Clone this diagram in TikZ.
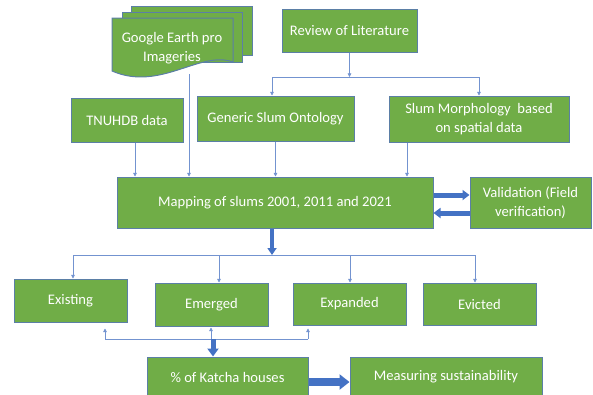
\documentclass[tikz,border=0pt]{standalone}
\usepackage{fontspec}
\setmainfont{Carlito}
\usetikzlibrary{arrows.meta}
\definecolor{gfill}{HTML}{70AD47}
\definecolor{gborder}{HTML}{5B7FA6}
\definecolor{ablue}{HTML}{4472C4}
\definecolor{tblue}{HTML}{7393D0}
\tikzset{
  box/.style={draw=gborder, line width=1pt, fill=gfill, text=white,
    font=\fontsize{14.6}{18.5}\selectfont, align=center, inner sep=0pt},
  sheet/.style={draw=gborder, line width=1pt, fill=gfill},
  thinline/.style={draw=tblue, line width=0.6pt},
  thinarrow/.style={thinline, -{Triangle[width=3.6pt,length=3.6pt]}},
  bigarrow/.style={draw=ablue, line width=5pt, -{Triangle[width=10pt,length=7pt]}},
  hugearrow/.style={draw=ablue, line width=8.5pt, -{Triangle[width=15pt,length=10pt]}}
}
\begin{document}
\begin{tikzpicture}[x=1pt,y=-1pt]
\useasboundingbox (0,0) rectangle (593,394);
% Google Earth multi-document
\draw[sheet] (131,6) rectangle (252,55);
\draw[sheet] (122,12) rectangle (242,62);
\draw[sheet] (112,18) -- (233,18) -- (233,62) .. controls (200,50) and (160,92) .. (112,71) -- cycle;
\node[text=white, font=\fontsize{14.6}{18.5}\selectfont, align=center] (goog) at (172,48) {Google Earth pro\\Imageries};
\coordinate (gbot) at (189,74);
% boxes
\node[box, minimum width=135, minimum height=43] (rev) at (349.5,30.5) {Review of Literature};
\node[box, minimum width=112, minimum height=44] (tnu) at (127,120) {TNUHDB data};
\node[box, minimum width=157, minimum height=45] (gen) at (275.5,118.5) {Generic Slum Ontology};
\node[box, minimum width=180, minimum height=46] (morph) at (479,119) {Slum Morphology\ \ based\\on spatial data};
\node[box, minimum width=316, minimum height=51] (map) at (275,202.5) {Mapping of slums 2001, 2011 and 2021};
\node[box, minimum width=121, minimum height=51] (val) at (530.5,202.5) {Validation (Field\\verification)};
\node[box, minimum width=113, minimum height=43] (exist) at (70.5,300.5) {Existing};
\node[box, minimum width=113, minimum height=43] (emer) at (211.5,304.5) {Emerged};
\node[box, minimum width=113, minimum height=42] (expa) at (349.5,304) {Expanded};
\node[box, minimum width=113, minimum height=42] (evic) at (479.5,304) {Evicted};
\node[box, minimum width=161, minimum height=40] (katcha) at (227.5,377) {\% of Katcha houses};
\node[box, minimum width=192, minimum height=40] (meas) at (446,377) {Measuring sustainability};
% top connectors
\coordinate (j1) at (349.5,77);
\coordinate (jL) at (272,77);
\coordinate (jR) at (479,77);
\draw[thinarrow] (rev.south) -- (j1);
\draw[thinline] (jL) -- (jR);
\draw[thinarrow] (jL) -- (jL |- gen.north);
\draw[thinarrow] (jR) -- (morph.north);
% into mapping
\draw[thinarrow] ([xshift=8pt]tnu.south) -- ([xshift=8pt]tnu.south |- map.north);
\draw[thinarrow] (gbot) -- (gbot |- map.north);
\draw[thinarrow] (gen.south) -- (gen.south |- map.north);
\draw[thinarrow] ([xshift=-72pt]morph.south) -- ([xshift=-72pt]morph.south |- map.north);
% validation arrows
\draw[bigarrow] ([yshift=7.5pt]map.east) -- ([yshift=7.5pt]map.east -| val.west);
\draw[bigarrow] ([yshift=-10.5pt]val.west) -- ([yshift=-10.5pt]val.west -| map.east);
% mapping down
\coordinate (j2) at (272,255);
\coordinate (jA) at (73,255);
\coordinate (jB) at (219,255);
\coordinate (jC) at (350,255);
\coordinate (jD) at (475,255);
\draw[draw=ablue, line width=4.5pt, -{Triangle[width=9pt,length=7pt]}] (map.south -| j2) -- (j2);
\draw[thinline] (jA) -- (jD);
\draw[thinarrow] (jA) -- (jA |- exist.north);
\draw[thinarrow] (jB) -- (jB |- emer.north);
\draw[thinarrow] (jC) -- (jC |- expa.north);
\draw[thinarrow] (jD) -- (jD |- evic.north);
% bottom junction
\coordinate (kA) at (105,339);
\coordinate (kB) at (211,339);
\coordinate (kC) at (308,339);
\coordinate (kM) at (213,339);
\draw[thinline] (kA) -- (kC);
\draw[thinarrow, shorten >=6pt] (kA) -- (kA |- exist.south);
\draw[thinarrow, shorten >=1pt] (kB) -- (kB |- emer.south);
\draw[thinarrow, shorten >=3pt] (kC) -- (kC |- expa.south);
\draw[draw=ablue, line width=5pt, -{Triangle[width=11pt,length=8pt]}] (kM) -- (kM |- katcha.north);
\draw[hugearrow] ([yshift=-5pt]katcha.east) -- ([yshift=-5pt]katcha.east -| meas.west);
\end{tikzpicture}
\end{document}
